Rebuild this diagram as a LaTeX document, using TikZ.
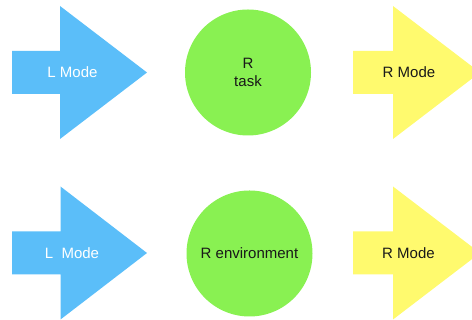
\documentclass[tikz,border=0pt]{standalone}
\usepackage{fontspec}
\setmainfont{Liberation Sans}
\definecolor{lmodeblue}{RGB}{91,190,249}
\definecolor{rgreen}{RGB}{137,241,82}
\definecolor{rmodeyellow}{RGB}{255,250,110}

% fat right-pointing arrow: fill colour, shaft left x, head base x, tip x, centre y
\newcommand{\fatarrow}[5]{%
  \fill[#1] (#2,{#5-21.5}) -- (#3,{#5-21.5}) -- (#3,{#5-66.5}) -- (#4,#5)
    -- (#3,{#5+66.5}) -- (#3,{#5+21.5}) -- (#2,{#5+21.5}) -- cycle;}

\begin{document}
\begin{tikzpicture}[x=1pt,y=1pt,
  lbl/.style={font=\fontsize{15}{18.5}\selectfont, align=center, inner sep=0pt},
  ball/.style={circle, fill=rgreen, minimum size=126pt, inner sep=0pt,
    font=\fontsize{15}{18.5}\selectfont, align=center, text=black!90}]
  \useasboundingbox (0,0) rectangle (472,320);

  % top row
  \fatarrow{lmodeblue}{12}{60}{147}{247.5}
  \node[lbl, text=white] (lmodeA) at (72.5,247.5) {L Mode};
  \node[ball] (task) at (248,247.5) {R\\task};
  \fatarrow{rmodeyellow}{353}{393}{480}{247.5}
  \node[lbl, text=black!90] (rmodeA) at (409,247.5) {R Mode};

  % bottom row
  \fatarrow{lmodeblue}{12}{60.5}{147}{67}
  \node[lbl, text=white] (lmodeB) at (72,67) {L~~Mode};
  \node[ball] (env) at (249.5,66.5) {R environment};
  \fatarrow{rmodeyellow}{353}{393}{480}{67}
  \node[lbl, text=black!90] (rmodeB) at (408.5,67) {R Mode};
\end{tikzpicture}
\end{document}
